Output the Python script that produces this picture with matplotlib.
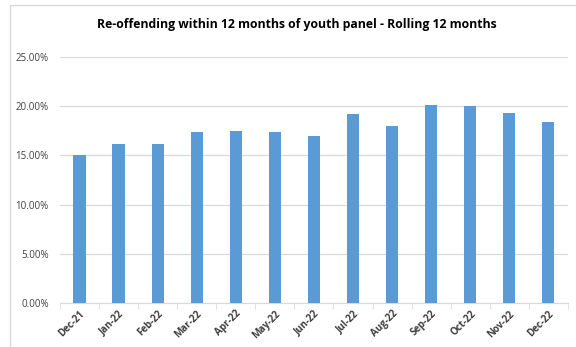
import numpy as np
import matplotlib.pyplot as plt
from matplotlib.patches import Rectangle
from matplotlib.ticker import FuncFormatter, FixedLocator

# datos
meses = ['Dec-21', 'Jan-22', 'Feb-22', 'Mar-22', 'Apr-22', 'May-22', 'Jun-22',
         'Jul-22', 'Aug-22', 'Sep-22', 'Oct-22', 'Nov-22', 'Dec-22']
tasa = [15.0, 16.1, 16.2, 17.4, 17.5, 17.4, 17.0,
        19.2, 18.0, 20.1, 20.0, 19.3, 18.4]

plt.rcParams['font.family'] = ['Open Sans', 'DejaVu Sans']

fig = plt.figure(figsize=(5.76, 3.47), dpi=100)
# marco del grafico
fig.patches.append(Rectangle((10 / 576, -0.01), 1.0, 1 - 5 / 347 + 0.01,
                             transform=fig.transFigure, fill=False,
                             edgecolor='#d9d9d9', linewidth=1.0))
ax = fig.add_axes([0.104, 0.127, 0.882, 0.709])

x = np.arange(len(meses))
ax.bar(x, [v / 100 for v in tasa], width=0.31, color='#5b9bd5', zorder=3)

ax.set_xlim(-0.5, len(meses) - 0.5)
ax.set_ylim(0, 0.25)
ax.set_yticks(np.arange(0, 0.2501, 0.05))
ax.yaxis.set_major_formatter(FuncFormatter(lambda v, p: f'{v * 100:.2f}%'))
ax.grid(axis='y', color='#d9d9d9', linewidth=0.9, zorder=0)
ax.tick_params(axis='y', length=0, labelsize=7, labelcolor='#404040', pad=8)

ax.set_xticks(x)
ax.set_xticklabels(meses, rotation=45, ha='right', rotation_mode='anchor',
                   fontsize=7, fontweight='bold', color='#404040')
ax.tick_params(axis='x', which='major', length=0, pad=4)
ax.xaxis.set_minor_locator(FixedLocator(np.arange(-0.5, len(meses), 1)))
ax.tick_params(axis='x', which='minor', length=4, color='#d9d9d9')

for s in ['top', 'right', 'left']:
    ax.spines[s].set_visible(False)
ax.spines['bottom'].set_color('#d9d9d9')

fig.text(297 / 576, 0.928, 'Re-offending within 12 months of youth panel - Rolling 12 months',
         ha='center', va='center', fontsize=8.85, fontweight='bold', color='#000000')

plt.savefig('out.png', dpi=100)
